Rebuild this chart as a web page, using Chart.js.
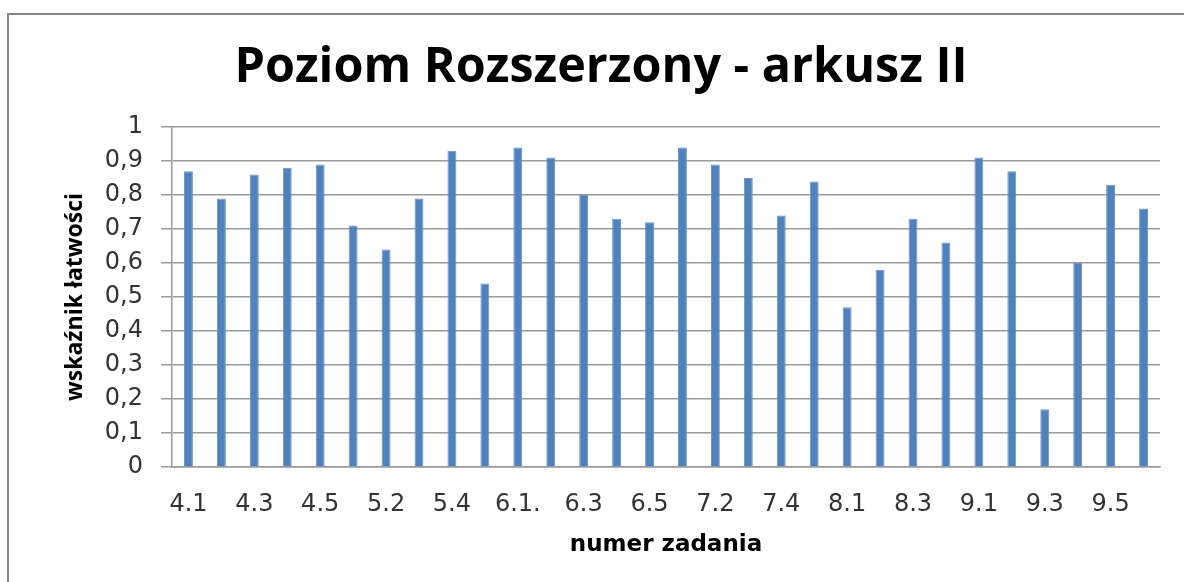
<!DOCTYPE html>
<html>
<head>
<meta charset="utf-8">
<script src="https://cdn.jsdelivr.net/npm/chart.js@4/dist/chart.umd.min.js"></script>
<style>
  html, body { margin: 0; padding: 0; background: #fff; }
  #wrap { position: relative; width: 1184px; height: 582px; overflow: hidden; }
  #frame { position: absolute; left: 7px; top: 13px; width: 1300px; height: 700px;
           border: 2px solid #868686; box-sizing: border-box; pointer-events: none; }
  canvas { position: absolute; left: 0; top: 0; }
</style>
</head>
<body>
<div id="wrap">
  <canvas id="c" width="1184" height="582"></canvas>
  <div id="frame"></div>
</div>
<script>
const categories = ['4.1','4.2','4.3','4.4','4.5','5.1','5.2','5.3','5.4','5.5',
                    '6.1.','6.2','6.3','6.4','6.5','7.1','7.2','7.3','7.4','7.5',
                    '8.1','8.2','8.3','8.4','9.1','9.2','9.3','9.4','9.5','9.6'];
const values = [0.87, 0.79, 0.86, 0.88, 0.89, 0.71, 0.64, 0.79, 0.93, 0.54,
                0.94, 0.91, 0.80, 0.73, 0.72, 0.94, 0.89, 0.85, 0.74, 0.84,
                0.47, 0.58, 0.73, 0.66, 0.91, 0.87, 0.17, 0.60, 0.83, 0.76];
const yTicks = [0, 0.1, 0.2, 0.3, 0.4, 0.5, 0.6, 0.7, 0.8, 0.9, 1];
const titleText = 'Poziom Rozszerzony - arkusz II';
const xTitle = 'numer zadania';
const yTitle = 'wskaźnik łatwości';

const gridColor = '#9a9a9a';

const titlePlugin = {
  id: 'frameTitle',
  afterDraw(chart) {
    const ctx = chart.ctx;
    ctx.save();
    ctx.font = 'bold 48.5px "Open Sans"';
    ctx.fillStyle = '#000';
    ctx.textAlign = 'center';
    ctx.textBaseline = 'alphabetic';
    ctx.fillText(titleText, 601, 82);
    ctx.restore();
  }
};

new Chart(document.getElementById('c'), {
  type: 'bar',
  data: {
    labels: categories,
    datasets: [{
      data: values,
      backgroundColor: '#4F81BD',
      borderColor: '#6a93c8',
      borderWidth: 1,
      borderSkipped: 'bottom',
      barPercentage: 0.27,
      categoryPercentage: 1
    }]
  },
  plugins: [titlePlugin],
  options: {
    responsive: false,
    animation: false,
    devicePixelRatio: 1,
    layout: { padding: { left: 0, right: 24, top: 127, bottom: 0 } },
    plugins: {
      legend: { display: false },
      tooltip: { enabled: false },
      title: { display: false }
    },
    scales: {
      x: {
        grid: { display: false, drawTicks: false },
        border: { display: true, color: gridColor, width: 1.5 },
        ticks: {
          autoSkip: false,
          maxRotation: 0,
          minRotation: 0,
          padding: 23,
          color: '#333',
          font: { family: 'DejaVu Sans', size: 24 },
          callback: function (v, i) { return i % 2 === 0 ? categories[i] : ''; }
        },
        title: {
          display: true,
          text: xTitle,
          color: '#000',
          font: { family: 'DejaVu Sans', size: 23, weight: 'bold' },
          padding: { top: 0, bottom: 23 }
        },
        afterFit: function (s) { s.height = 115; }
      },
      y: {
        min: 0,
        max: 1,
        afterBuildTicks: function (s) { s.ticks = yTicks.map(v => ({ value: v })); },
        grid: { color: gridColor, lineWidth: 1.5, drawTicks: true, tickLength: 11 },
        border: { display: true, color: gridColor, width: 1.5 },
        ticks: {
          padding: 18,
          color: '#333',
          font: { family: 'DejaVu Sans', size: 24 },
          callback: function (v) { return String(Number(v.toFixed(1))).replace('.', ','); }
        },
        title: {
          display: true,
          text: yTitle,
          color: '#000',
          font: { family: 'Open Sans', size: 23, weight: 'bold' },
          padding: { top: 62, bottom: 0 }
        },
        afterFit: function (s) { s.width = 172; }
      }
    }
  }
});
</script>
</body>
</html>
